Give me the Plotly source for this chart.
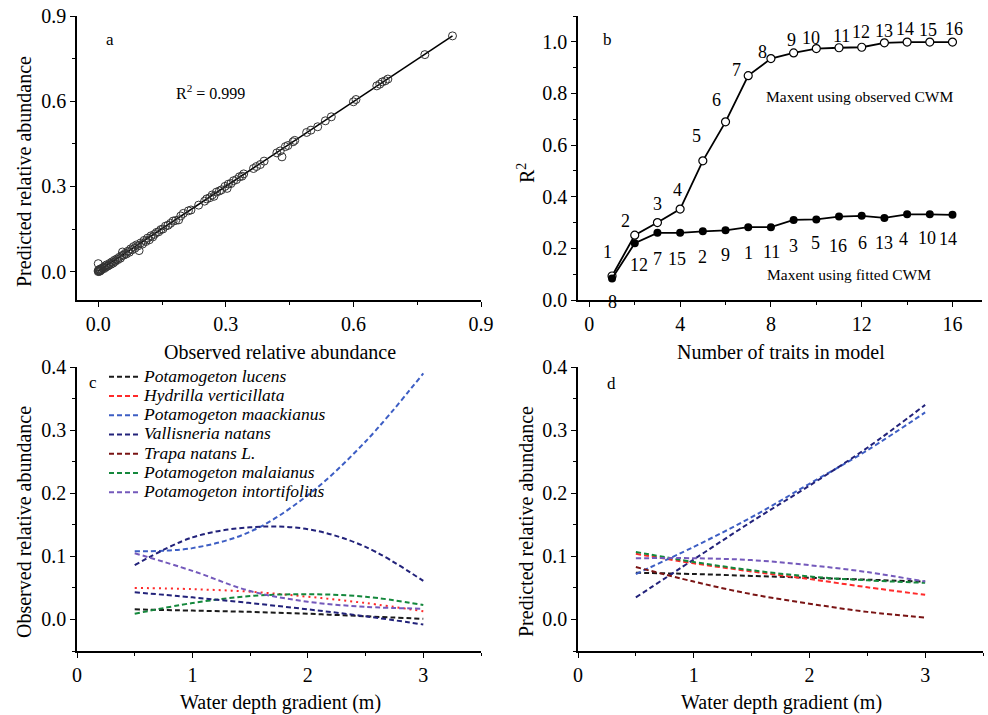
import plotly.graph_objects as go

FONT = "Liberation Serif"

# ---------------- Panel a data ----------------
obs_a = [0.000, 0.000, 0.000, 0.001, 0.002, 0.003, 0.004, 0.005, 0.006, 0.008,
         0.010, 0.012, 0.014, 0.016, 0.018, 0.020, 0.022, 0.025, 0.027, 0.030,
         0.032, 0.035, 0.038, 0.040, 0.043, 0.046, 0.049, 0.052, 0.055, 0.057,
         0.060, 0.063, 0.066, 0.070, 0.073, 0.076, 0.080, 0.083, 0.086, 0.090,
         0.093, 0.096, 0.100, 0.104, 0.108, 0.112, 0.116, 0.120, 0.124, 0.128,
         0.132, 0.137, 0.142, 0.147, 0.152, 0.158, 0.164, 0.170, 0.176, 0.182,
         0.189, 0.194, 0.200, 0.212, 0.218, 0.236, 0.250, 0.255, 0.262, 0.268,
         0.272, 0.278, 0.285, 0.290, 0.298, 0.303, 0.306, 0.312, 0.318, 0.325,
         0.332, 0.338, 0.342, 0.365, 0.372, 0.381, 0.390, 0.420, 0.428, 0.432,
         0.440, 0.446, 0.458, 0.462, 0.490, 0.500, 0.516, 0.534, 0.548, 0.600,
         0.606, 0.655, 0.662, 0.668, 0.675, 0.681, 0.768, 0.833]
pred_a = [0.000, 0.004, 0.028, 0.002, 0.006, 0.001, 0.008, 0.003, 0.010, 0.007,
          0.012, 0.015, 0.011, 0.020, 0.016, 0.024, 0.019, 0.022, 0.029, 0.026,
          0.034, 0.030, 0.040, 0.036, 0.044, 0.042, 0.050, 0.047, 0.056, 0.069,
          0.058, 0.064, 0.062, 0.072, 0.068, 0.080, 0.077, 0.088, 0.082, 0.094,
          0.090, 0.074, 0.101, 0.097, 0.110, 0.106, 0.118, 0.112, 0.126, 0.122,
          0.131, 0.138, 0.140, 0.148, 0.150, 0.160, 0.163, 0.170, 0.178, 0.180,
          0.182, 0.196, 0.205, 0.214, 0.217, 0.234, 0.248, 0.256, 0.260, 0.270,
          0.265, 0.280, 0.284, 0.288, 0.300, 0.293, 0.308, 0.310, 0.320, 0.324,
          0.334, 0.336, 0.344, 0.363, 0.370, 0.377, 0.389, 0.418, 0.425, 0.404,
          0.440, 0.444, 0.457, 0.462, 0.490, 0.498, 0.510, 0.531, 0.545, 0.598,
          0.606, 0.654, 0.660, 0.668, 0.672, 0.678, 0.764, 0.830]
fit_x = [0.0, 0.833]
fit_y = [0.002, 0.830]

# ---------------- Panel b data ----------------
traits = list(range(1, 17))
r2_observed = [0.093, 0.251, 0.300, 0.352, 0.539, 0.690, 0.869, 0.935,
               0.957, 0.974, 0.977, 0.979, 0.996, 0.999, 0.999, 0.999]
r2_fitted = [0.083, 0.220, 0.260, 0.260, 0.266, 0.270, 0.282, 0.282,
             0.310, 0.312, 0.323, 0.326, 0.318, 0.332, 0.332, 0.330]
obs_labels = ["1", "2", "3", "4", "5", "6", "7", "8",
              "9", "10", "11", "12", "13", "14", "15", "16"]
fit_labels = ["8", "12", "7", "15", "2", "9", "1", "11",
              "3", "5", "16", "6", "13", "4", "10", "14"]
obs_label_offsets = [(-5, 24), (-9, 14), (0, 19), (-3, 19), (-6, 25), (-9, 22),
                     (-12, 6), (-8, 7), (-2, 13), (-5, 11), (2, 12), (-1, 15),
                     (0, 12), (-2, 13), (-2, 12), (2, 13)]
fit_label_offsets = [(0, -23), (4, -22), (0, -26), (-3, -26), (0, -26), (0, -25),
                     (0, -26), (1, -25), (0, -26), (-1, -24), (-1, -29), (1, -27),
                     (0, -25), (-4, -25), (-3, -24), (-4, -24)]

# ---------------- Panels c / d data ----------------
depth = [0.5, 1.0, 1.5, 2.0, 2.5, 3.0]
species = ["Potamogeton lucens", "Hydrilla verticillata", "Potamogeton maackianus",
           "Vallisneria natans", "Trapa natans L.", "Potamogeton malaianus",
           "Potamogeton intortifolius"]
colors = ["#1a1a1a", "#ff2a2a", "#3d5ec4", "#22227a", "#7a1414", "#14883c", "#7459bb"]

obs_c = {
    "Potamogeton lucens":        [0.016, 0.014, 0.012, 0.009, 0.005, 0.001],
    "Hydrilla verticillata":     [0.050, 0.048, 0.044, 0.036, 0.026, 0.013],
    "Potamogeton maackianus":    [0.108, 0.113, 0.139, 0.197, 0.282, 0.390],
    "Vallisneria natans":        [0.086, 0.130, 0.146, 0.143, 0.115, 0.061],
    "Trapa natans L.":           None,
    "Potamogeton malaianus":     [0.009, 0.026, 0.037, 0.040, 0.036, 0.023],
    "Potamogeton intortifolius": [0.105, 0.077, 0.045, 0.028, 0.020, 0.017],
}
obs_c_lower_navy = [0.043, 0.035, 0.026, 0.016, 0.005, -0.008]

pred_d = {
    "Potamogeton lucens":        [0.074, 0.072, 0.069, 0.066, 0.063, 0.060],
    "Hydrilla verticillata":     [0.104, 0.089, 0.076, 0.064, 0.051, 0.039],
    "Potamogeton maackianus":    [0.072, 0.115, 0.162, 0.215, 0.268, 0.328],
    "Vallisneria natans":        [0.035, 0.095, 0.155, 0.212, 0.272, 0.340],
    "Trapa natans L.":           [0.083, 0.060, 0.040, 0.025, 0.012, 0.003],
    "Potamogeton malaianus":     [0.107, 0.091, 0.078, 0.068, 0.062, 0.058],
    "Potamogeton intortifolius": [0.097, 0.097, 0.094, 0.086, 0.075, 0.060],
}

fig = go.Figure()

# Panel a
fig.add_trace(go.Scatter(x=fit_x, y=fit_y, mode="lines", line=dict(color="black", width=1.6),
                         xaxis="x", yaxis="y", showlegend=False))
fig.add_trace(go.Scatter(x=obs_a, y=pred_a, mode="markers",
                         marker=dict(symbol="circle-open", size=8, color="#333333", line=dict(width=1)),
                         xaxis="x", yaxis="y", showlegend=False))

# Panel b
fig.add_trace(go.Scatter(x=traits, y=r2_observed, mode="lines+markers",
                         line=dict(color="black", width=1.8),
                         marker=dict(symbol="circle", size=8, color="white", line=dict(color="black", width=1.2)),
                         xaxis="x2", yaxis="y2", showlegend=False))
fig.add_trace(go.Scatter(x=traits, y=r2_fitted, mode="lines+markers",
                         line=dict(color="black", width=1.8),
                         marker=dict(symbol="circle", size=8, color="black"),
                         xaxis="x2", yaxis="y2", showlegend=False))

# Panel c
def legend_name(n):
    return '<span style="font-size:17.5px">' + n + '</span>'

for name, col in zip(species, colors):
    vals = obs_c[name]
    dotted = name == "Hydrilla verticillata"
    # legend entry (dashed sample for every species)
    fig.add_trace(go.Scatter(x=[None], y=[None], mode="lines", name=legend_name(name),
                             legendgroup=name, showlegend=True,
                             line=dict(color=col, width=2, dash="5px,3px"),
                             xaxis="x3", yaxis="y3"))
    if vals is None:
        continue
    fig.add_trace(go.Scatter(x=depth, y=vals, mode="lines", name=name, legendgroup=name,
                             showlegend=False,
                             line=dict(color=col, width=2, dash="2px,4px" if dotted else "5px,3px",
                                       shape="spline"),
                             xaxis="x3", yaxis="y3"))
fig.add_trace(go.Scatter(x=depth, y=obs_c_lower_navy, mode="lines", showlegend=False,
                         line=dict(color="#22227a", width=2, dash="5px,3px", shape="spline"),
                         xaxis="x3", yaxis="y3"))

# Panel d
for name, col in zip(species, colors):
    fig.add_trace(go.Scatter(x=depth, y=pred_d[name], mode="lines", showlegend=False,
                             line=dict(color=col, width=2, dash="5px,3px", shape="spline"),
                             xaxis="x4", yaxis="y4"))

W, H = 988, 715
def dx(p0, p1):
    return [p0 / W, p1 / W]
def dy(top, bottom):
    return [1 - bottom / H, 1 - top / H]

def axis(domain, rng, dtick, minor, fmt=None, anchor=None):
    d = dict(domain=domain, range=rng, dtick=dtick, tick0=0, showline=True, linecolor="black",
             linewidth=1.6, ticks="outside", ticklen=5, tickwidth=1.4, tickcolor="black",
             showgrid=False, zeroline=False, automargin=False,
             tickfont=dict(family=FONT, size=20, color="black"),
             minor=dict(ticks="outside", ticklen=3, tickwidth=1.2, tickcolor="black",
                        dtick=minor, tick0=0, showgrid=False),
             anchor=anchor)
    if fmt:
        d["tickformat"] = fmt
    return d

xa_dom, xb_dom = dx(77, 481), dx(578, 982)
top_dom, bot_dom = dy(16, 300), dy(367, 651)

fig.update_layout(
    width=W, height=H, margin=dict(l=0, r=0, t=0, b=0, autoexpand=False),
    paper_bgcolor="white", plot_bgcolor="white",
    font=dict(family=FONT, color="black"),
    xaxis=axis(xa_dom, [-0.05, 0.9], 0.3, 0.15, ".1f", "y"),
    yaxis=axis(top_dom, [-0.1, 0.9], 0.3, 0.15, ".1f", "x"),
    xaxis2=axis(xb_dom, [-0.5, 17.3], 4, 2, None, "y2"),
    yaxis2=axis(top_dom, [0, 1.1], 0.2, 0.1, ".1f", "x2"),
    xaxis3=axis(xa_dom, [0, 3.5], 1, 0.5, None, "y3"),
    yaxis3=axis(bot_dom, [-0.05, 0.4], 0.1, 0.05, ".1f", "x3"),
    xaxis4=axis(dx(578, 983), [0, 3.5], 1, 0.5, None, "y4"),
    yaxis4=axis(bot_dom, [-0.05, 0.4], 0.1, 0.05, ".1f", "x4"),
    legend=dict(x=104 / W, y=1 - 362 / H, xanchor="left", yanchor="top",
                bgcolor="rgba(0,0,0,0)", borderwidth=0, tracegroupgap=0,
                font=dict(family=FONT, size=12.5, style="italic", color="black")),
)

ann = []
def text(x, y, s, size, xref="paper", yref="paper", angle=0, **kw):
    ann.append(dict(x=x, y=y, xref=xref, yref=yref, text=s, showarrow=False,
                    xanchor="center", yanchor="middle",
                    font=dict(family=FONT, size=size, color="black"), textangle=angle, **kw))

# axis titles
text(280 / W, 1 - 352 / H, "Observed relative abundance", 20)
text(24 / W, 1 - 172 / H, "Predicted relative abundance", 20, angle=-90)
text(781 / W, 1 - 352 / H, "Number of traits in model", 20)
text(526 / W, 1 - 173 / H, "R<sup>2</sup>", 20, angle=-90)
text(280 / W, 1 - 702 / H, "Water depth gradient (m)", 20)
text(24 / W, 1 - 522 / H, "Observed relative abundance", 20, angle=-90)
text(781 / W, 1 - 702 / H, "Water depth gradient (m)", 20)
text(526 / W, 1 - 522 / H, "Predicted relative abundance", 20, angle=-90)

# panel letters and notes
text(0.028, 0.817, "a", 17, "x", "y")
text(0.263, 0.634, "R<sup>2</sup> = 0.999", 16, "x", "y")
text(0.8, 1.008, "b", 17, "x2", "y2")
text(93 / W, 1 - 382 / H, "c", 17)
text(611 / W, 1 - 383 / H, "d", 17)
text(11.9, 0.787, "Maxent using observed CWM", 15.5, "x2", "y2")
text(11.46, 0.097, "Maxent using fitted CWM", 15.5, "x2", "y2")

for t, v, lab, (ox, oy) in zip(traits, r2_observed, obs_labels, obs_label_offsets):
    text(t, v, lab, 18, "x2", "y2", xshift=ox, yshift=oy)
for t, v, lab, (ox, oy) in zip(traits, r2_fitted, fit_labels, fit_label_offsets):
    text(t, v, lab, 18, "x2", "y2", xshift=ox, yshift=oy)

fig.update_layout(annotations=ann)
fig.write_html("out.html", config={"displayModeBar": False},
               post_script="document.body.style.margin='0';")
